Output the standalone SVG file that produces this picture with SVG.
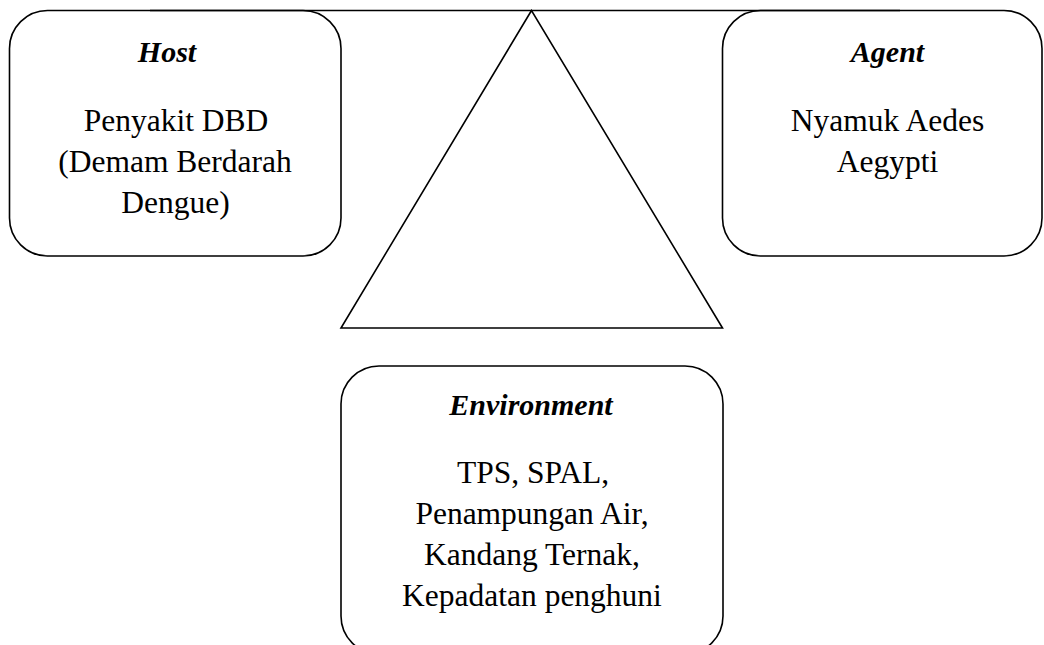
<svg xmlns="http://www.w3.org/2000/svg" width="1044" height="645" viewBox="0 0 1044 645">
  <style>
    .box { fill: none; stroke: #000; stroke-width: 1.6; }
    .conn { fill: none; stroke: #000; stroke-width: 1.6; stroke-linejoin: miter; }
    .title { font-family: "Liberation Serif", "Times New Roman", serif; font-size: 30px; font-weight: bold; font-style: italic; fill: #000; text-anchor: middle; }
    .body { font-family: "Liberation Serif", "Times New Roman", serif; font-size: 31.5px; fill: #000; text-anchor: middle; }
  </style>
  <rect x="0" y="0" width="1044" height="645" fill="#fff"/>
  <g id="connectors">
    <line class="conn" x1="150" y1="10.5" x2="900" y2="10.5"/>
    <polygon class="conn" points="531.5,10.5 341,328 722.5,328"/>
  </g>
  <g id="host">
    <rect class="box" x="9.5" y="10.5" width="331.5" height="245.5" rx="38" ry="38"/>
    <text class="title" x="167" y="62">Host</text>
    <text class="body" x="176" y="131">Penyakit DBD</text>
    <text class="body" x="175" y="172">(Demam Berdarah</text>
    <text class="body" x="175.5" y="213">Dengue)</text>
  </g>
  <g id="agent">
    <rect class="box" x="722.5" y="10.5" width="319.5" height="245.5" rx="38" ry="38"/>
    <text class="title" x="887.5" y="62">Agent</text>
    <text class="body" x="887.5" y="131">Nyamuk Aedes</text>
    <text class="body" x="887.5" y="172">Aegypti</text>
  </g>
  <g id="environment">
    <rect class="box" x="341" y="366" width="382" height="288" rx="38" ry="38"/>
    <text class="title" x="531" y="415">Environment</text>
    <text class="body" x="533" y="483">TPS, SPAL,</text>
    <text class="body" x="532" y="524">Penampungan Air,</text>
    <text class="body" x="532" y="565">Kandang Ternak,</text>
    <text class="body" x="532" y="606">Kepadatan penghuni</text>
  </g>
</svg>
